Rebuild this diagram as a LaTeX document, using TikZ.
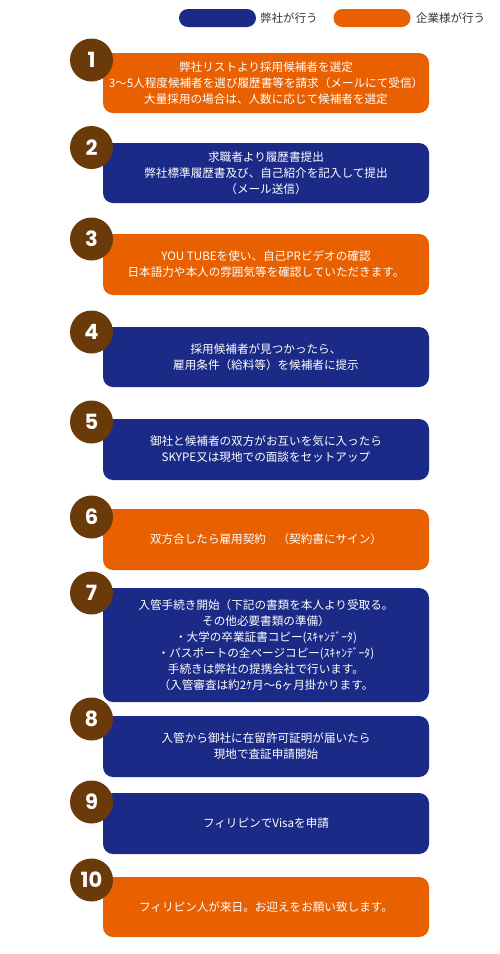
\documentclass[tikz,border=0pt]{standalone}
\usepackage{fontspec}
\newfontfamily\jp{Noto Sans CJK JP}
\newfontfamily\numf{Poppins}
\definecolor{navy}{HTML}{1B2A86}
\definecolor{orng}{HTML}{E86000}
\definecolor{brwn}{HTML}{6A3A0B}
\begin{document}
\begin{tikzpicture}[x=1pt,y=-1pt,
  box/.style={rectangle,rounded corners=10pt,minimum width=326pt,inner sep=0pt,
    text=white,align=center,font=\jp\fontsize{11.6}{16}\selectfont},
  bluebox/.style={box,fill=navy},
  orangebox/.style={box,fill=orng},
  numc/.style={circle,fill=brwn,minimum size=43pt,inner sep=0pt,text=white,
    font=\numf\bfseries\fontsize{21}{21}\selectfont},
  pill/.style={rectangle,rounded corners=9pt,minimum width=77pt,minimum height=18pt,inner sep=0pt},
  legtext/.style={anchor=west,inner sep=0pt,font=\jp\fontsize{11.5}{14}\selectfont,text=black!80}]
\useasboundingbox (0,0) rectangle (500,954);
% legend
\node[pill,fill=navy] (lb) at (217.5,18) {};
\node[legtext] (lbt) at (260,18) {弊社が行う};
\node[pill,fill=orng] (lo) at (372,18) {};
\node[legtext] (lot) at (416,18) {企業様が行う};
% boxes
\node[orangebox,minimum height=60pt] (b1) at (266,83) {弊社リストより採用候補者を選定\\3～5人程度候補者を選び履歴書等を請求（メールにて受信）\\大量採用の場合は、人数に応じて候補者を選定};
\node[bluebox,minimum height=60pt] (b2) at (266,173) {求職者より履歴書提出\\弊社標準履歴書及び、自己紹介を記入して提出\\（メール送信）};
\node[orangebox,minimum height=61pt] (b3) at (266,264.5) {YOU TUBEを使い、自己PRビデオの確認\\日本語力や本人の雰囲気等を確認していただきます。};
\node[bluebox,minimum height=60pt] (b4) at (266,357) {採用候補者が見つかったら、\\雇用条件（給料等）を候補者に提示};
\node[bluebox,minimum height=61pt] (b5) at (266,449.5) {御社と候補者の双方がお互いを気に入ったら\\SKYPE又は現地での面談をセットアップ};
\node[orangebox,minimum height=61pt] (b6) at (266,539.5) {双方合したら雇用契約　（契約書にサイン）};
\node[bluebox,minimum height=114pt] (b7) at (266,645) {入管手続き開始（下記の書類を本人より受取る。\\その他必要書類の準備）\\・大学の卒業証書コピー(ｽｷｬﾝﾃﾞｰﾀ)\\・パスポートの全ページコピー(ｽｷｬﾝﾃﾞｰﾀ)\\手続きは弊社の提携会社で行います。\\（入管審査は約2ｹ月～6ヶ月掛かります。};
\node[bluebox,minimum height=61pt] (b8) at (266,746.5) {入管から御社に在留許可証明が届いたら\\現地で査証申請開始};
\node[bluebox,minimum height=61pt] (b9) at (266,823.5) {フィリピンでVisaを申請};
\node[orangebox,minimum height=60pt] (b10) at (266,907) {フィリピン人が来日。お迎えをお願い致します。};
% number circles
\node[numc] (n1) at (91.5,60) {1};
\node[numc] (n2) at (91.5,147.5) {2};
\node[numc] (n3) at (91.5,239) {3};
\node[numc] (n4) at (91.5,332) {4};
\node[numc] (n5) at (91.5,422) {5};
\node[numc] (n6) at (91.5,517) {6};
\node[numc] (n7) at (91.5,593) {7};
\node[numc] (n8) at (91.5,719) {8};
\node[numc] (n9) at (91.5,802) {9};
\node[numc] (n10) at (91.5,880) {10};
\end{tikzpicture}
\end{document}
